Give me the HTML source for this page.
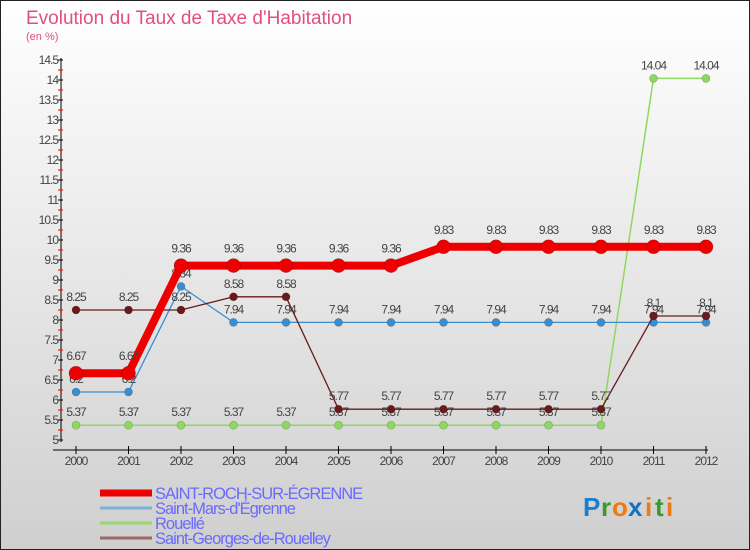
<!DOCTYPE html>
<html><head><meta charset="utf-8"><style>
body{margin:0;width:750px;height:550px;overflow:hidden;font-family:"Liberation Sans",sans-serif}
#c{position:absolute;left:0;top:0}
</style></head><body>
<svg id="c" width="750" height="550">
<defs><linearGradient id="bg" x1="0" y1="0" x2="0" y2="1"><stop offset="0" stop-color="#ffffff"/><stop offset="1" stop-color="#cfcfcf"/></linearGradient></defs>
<rect x="0.5" y="0.5" width="749" height="549" fill="url(#bg)" stroke="#222"/>
<text x="26" y="24" font-size="19" fill="#e0507a">Evolution du Taux de Taxe d'Habitation</text>
<text x="26" y="40" font-size="11" fill="#e0507a">(en %)</text>
<g id="axes"></g><g id="series"></g><g id="legend"></g>
<g font-size="26" font-weight="bold">
<text x="583" y="516" fill="#1a7fd0">P</text><text x="601" y="516" fill="#3a9a30">r</text><text x="612" y="516" fill="#f07a10">o</text><text x="628" y="516" fill="#1a70c0">x</text><text x="645" y="516" fill="#f07a10">i</text><text x="655" y="516" fill="#3a9a30">t</text><text x="666" y="516" fill="#f07a10">i</text>
</g>
</svg>
<script>
const years=[2000,2001,2002,2003,2004,2005,2006,2007,2008,2009,2010,2011,2012];
const stRoch=[6.67,6.67,9.36,9.36,9.36,9.36,9.36,9.83,9.83,9.83,9.83,9.83,9.83];
const stMars=[6.2,6.2,8.84,7.94,7.94,7.94,7.94,7.94,7.94,7.94,7.94,7.94,7.94];
const rouelle=[5.37,5.37,5.37,5.37,5.37,5.37,5.37,5.37,5.37,5.37,5.37,14.04,14.04];
const stGeorges=[8.25,8.25,8.25,8.58,8.58,5.77,5.77,5.77,5.77,5.77,5.77,8.1,8.1];
const yTicks=[5,5.5,6,6.5,7,7.5,8,8.5,9,9.5,10,10.5,11,11.5,12,12.5,13,13.5,14,14.5];
const names=["SAINT-ROCH-SUR-ÉGRENNE","Saint-Mars-d'Égrenne","Rouellé","Saint-Georges-de-Rouelley"];
const NS="http://www.w3.org/2000/svg";
const X=i=>76+i*52.5, Y=v=>440-(v-5)*40;
function mk(tag,attrs,parent,txt){const e=document.createElementNS(NS,tag);for(const k in attrs)e.setAttribute(k,attrs[k]);if(txt!==undefined)e.textContent=txt;parent.appendChild(e);return e;}
const ax=document.getElementById('axes');
let e=mk('line',{x1:61,y1:58,x2:61,y2:442,stroke:'#000'},ax);

e=mk('line',{x1:53,y1:450,x2:708,y2:450,stroke:'#000'},ax);

yTicks.forEach(v=>{
 mk('line',{x1:58,y1:Y(v),x2:63,y2:Y(v),stroke:'#000'},ax);
 if(v<14.5) mk('line',{x1:58,y1:Y(v+0.25),x2:63,y2:Y(v+0.25),stroke:'#e00'},ax);
 const t=mk('text',{x:58,y:Y(v)+4,'font-size':12,'text-anchor':'end',fill:'#444','letter-spacing':'-1'},ax,String(v));
 
});
years.forEach((y,i)=>{
 mk('line',{x1:X(i),y1:446,x2:X(i),y2:454,stroke:'#000'},ax);
 const t=mk('text',{x:X(i),y:465,'font-size':12,'text-anchor':'middle',fill:'#444','letter-spacing':'-1'},ax,String(y));
 
});
const sg=document.getElementById('series');
function series(vals,color,w,r,name,dy){
 const g=mk('g',{},sg);
 
 mk('polyline',{points:vals.map((v,i)=>X(i)+','+Y(v)).join(' '),fill:'none',stroke:color,'stroke-width':w,'stroke-linejoin':'round'},g);
 vals.forEach((v,i)=>{
  const c=mk('circle',{cx:X(i),cy:Y(v),r:r,fill:color,stroke:'rgba(0,0,0,0.25)','stroke-width':0.6},g);
  
  const t=mk('text',{x:X(i),y:Y(v)-dy,'font-size':12,'text-anchor':'middle',fill:'#444','letter-spacing':'-1'},g,String(v));
  
 });
}
series(rouelle,'#8fd860',1.5,4,'series-rouelle',9);
series(stMars,'#3a8ed0',1.3,4,'series-saint-mars',9);
series(stGeorges,'#6a1a1a',1.3,4,'series-saint-georges',9);
series(stRoch,'#ee0000',8,7,'series-saint-roch',13);
const lg=document.getElementById('legend');
const lc=['#ee0000','#7fb0d8','#9ad870','#9a6a6a'],lw=[7,3,3,3];
names.forEach((n,i)=>{
 const yy=493+i*15;
 const g=mk('g',{},lg);
 
 mk('line',{x1:100,y1:yy,x2:152,y2:yy,stroke:lc[i],'stroke-width':lw[i]},g);
 mk('text',{x:155,y:yy+6,'font-size':16.5,fill:'#6a6aff','letter-spacing':'-1'},g,n);
});
</script>
</body></html>
